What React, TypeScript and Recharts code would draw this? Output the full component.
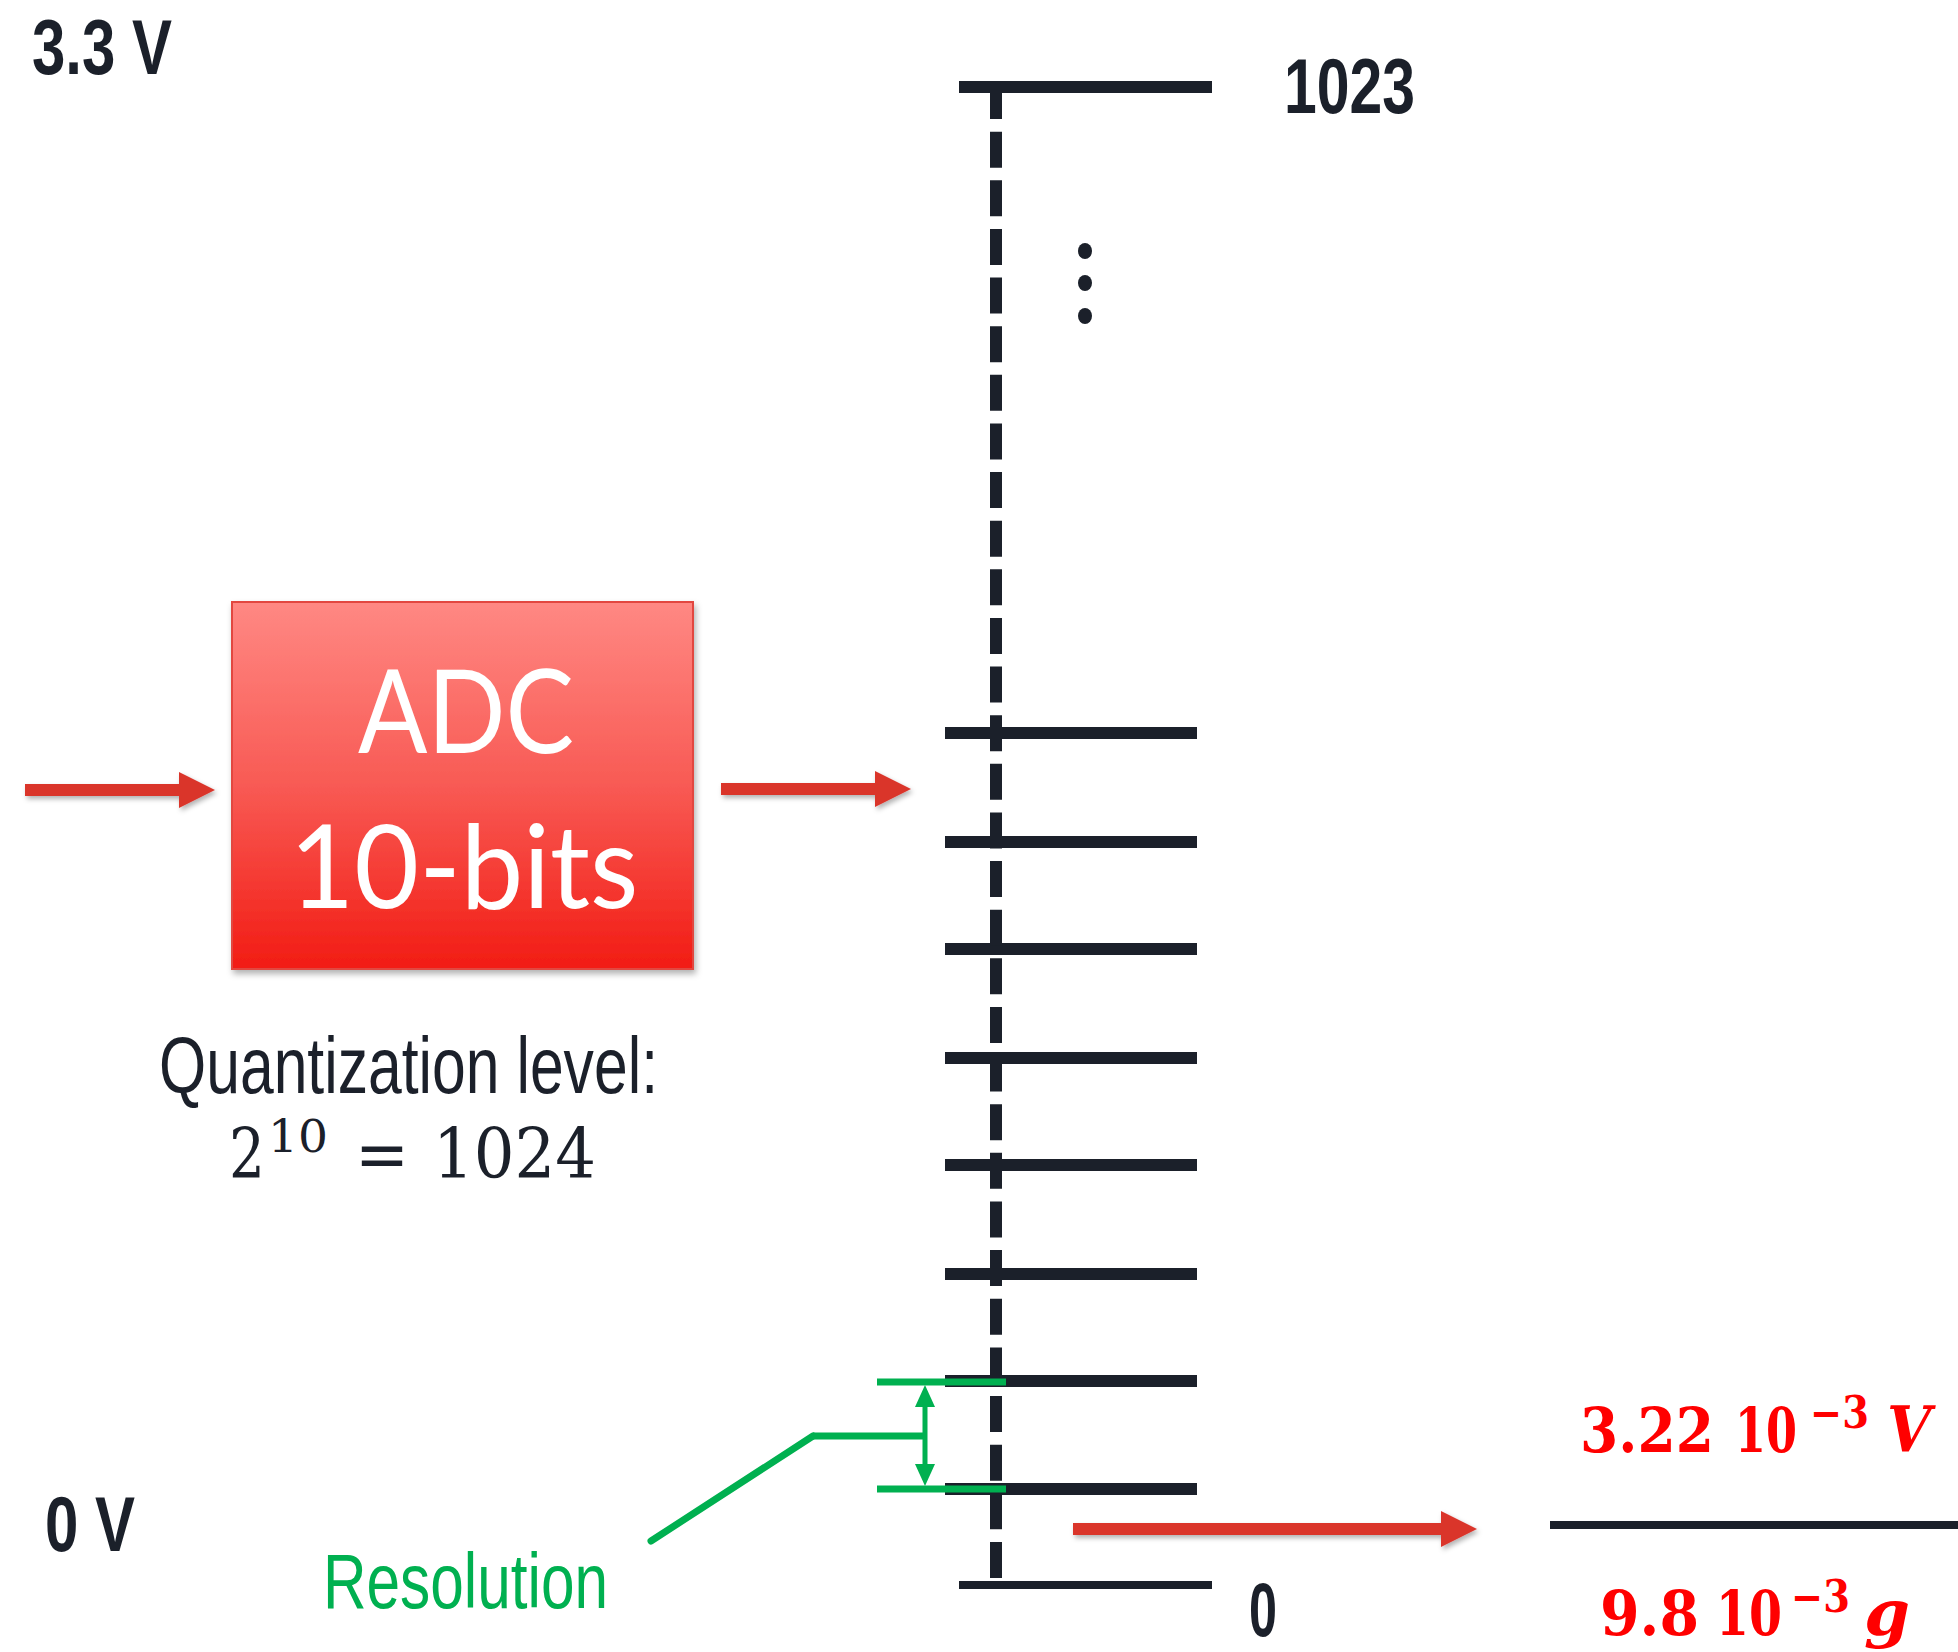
import React from 'react'
import { ComposedChart, XAxis, YAxis, ReferenceLine, ReferenceArea, Scatter } from 'recharts'

const W = 1958
const H = 1652

const INK = '#1b202a'
const ARROW_RED = '#da342c'
const MATH_RED = '#ff0000'
const GREEN = '#00b050'

const NARROW = "'Liberation Sans Narrow', 'Arial Narrow', 'Liberation Sans', Arial, sans-serif"
const SERIF = "'DejaVu Serif', 'Liberation Serif', serif"
const BLOCK_FONT = "Lato, 'Open Sans', 'Noto Sans', sans-serif"

// diagram space: x 0..1958, y 0..1652 counted from the top
const scaleColumn = 996
const codeTop = 87 // code 1023
const codeBottom = 1585 // code 0
const levelRows = [733, 842, 949, 1058, 1165, 1274, 1381, 1489]
const ellipsisRows = [251, 283, 316]

const adcBox = { x1: 232, x2: 693, y1: 602, y2: 969 }

const signalArrows = [
  { from: 25, to: 215, y: 790 },
  { from: 721, to: 911, y: 789 },
  { from: 1073, to: 1477, y: 1529 },
]

const resolutionStep = { x: 925, top: 1382, bottom: 1489 }
const resolutionLeader = [
  { x: 651, y: 1541 },
  { x: 813, y: 1436 },
  { x: 925, y: 1436 },
]

const fractionBar = { from: 1550, to: 1958, y: 1525 }

// plain labels: anchor x, baseline y, text, target width, role
const textLabels = [
  { x: 32, y: 74, t: '3.3 V', len: 140, role: 'rail' },
  { x: 45, y: 1551, t: '0 V', len: 90, role: 'rail' },
  { x: 1284, y: 113, t: '1023', len: 131, role: 'rail' },
  { x: 1249, y: 1636, t: '0', len: 28, role: 'railSmall' },
  { x: 159, y: 1093, t: 'Quantization level:', len: 499, role: 'caption' },
  { x: 323, y: 1608, t: 'Resolution', len: 285, role: 'green' },
  { x: 466, y: 753, t: 'ADC', len: 216, role: 'block' },
  { x: 464, y: 908, t: '10-bits', len: 349, role: 'block' },
]

// formula pieces: left x, baseline y, text, target width, role
const levelFormula = [
  { x: 229, y: 1178, t: '2', len: 36, role: 'math' },
  { x: 268, y: 1152, t: '10', len: 60, role: 'mathSup' },
  { x: 355, y: 1178, t: '=', len: 54, role: 'math' },
  { x: 433, y: 1178, t: '1024', len: 163, role: 'math' },
]
const voltFormula = [
  { x: 1580, y: 1452, t: '3.22', len: 134, role: 'red' },
  { x: 1735, y: 1452, t: '10', len: 62, role: 'red' },
  { x: 1810, y: 1428, t: '\u22123', len: 59, role: 'redSup' },
  { x: 1887, y: 1452, t: 'V', len: 44, role: 'redIt' },
]
const gFormula = [
  { x: 1600, y: 1635, t: '9.8', len: 99, role: 'red' },
  { x: 1716, y: 1635, t: '10', len: 66, role: 'red' },
  { x: 1791, y: 1612, t: '\u22123', len: 59, role: 'redSup' },
  { x: 1864, y: 1635, t: 'g', len: 46, role: 'redIt' },
]
const formulaPieces = [...levelFormula, ...voltFormula, ...gFormula]

const roleStyle: Record<string, any> = {
  rail: { fontFamily: NARROW, fontWeight: 700, fontSize: 78, fill: INK },
  railSmall: { fontFamily: NARROW, fontWeight: 700, fontSize: 76, fill: INK },
  caption: { fontFamily: NARROW, fontWeight: 400, fontSize: 80, fill: INK },
  green: { fontFamily: NARROW, fontWeight: 400, fontSize: 78, fill: GREEN },
  block: { fontFamily: BLOCK_FONT, fontWeight: 400, fontSize: 116, fill: '#ffffff', anchor: 'middle' },
  math: { fontFamily: SERIF, fontWeight: 400, fontSize: 70, fill: INK },
  mathSup: { fontFamily: SERIF, fontWeight: 400, fontSize: 45, fill: INK },
  red: { fontFamily: SERIF, fontWeight: 700, fontSize: 62, fill: MATH_RED },
  redSup: { fontFamily: SERIF, fontWeight: 700, fontSize: 44, fill: MATH_RED },
  redIt: { fontFamily: SERIF, fontWeight: 700, fontSize: 64, fill: MATH_RED, fontStyle: 'italic' },
}

let measureCtx: CanvasRenderingContext2D | null = null
function naturalWidth(t: string, s: any) {
  if (!measureCtx) measureCtx = document.createElement('canvas').getContext('2d')
  if (!measureCtx) return 0
  measureCtx.font = `${s.fontStyle || 'normal'} ${s.fontWeight} ${s.fontSize}px ${s.fontFamily}`
  return measureCtx.measureText(t).width
}

const labelShape = (p: any) => {
  const d = p.payload
  const s = roleStyle[d.role]
  return (
    <text
      x={p.cx}
      y={p.cy}
      textAnchor={s.anchor || 'start'}
      fontFamily={s.fontFamily}
      fontWeight={s.fontWeight}
      fontSize={s.fontSize}
      fill={s.fill}
      textLength={d.len}
      lengthAdjust="spacingAndGlyphs"
    >
      {d.t}
    </text>
  )
}

// squeeze each formula piece horizontally to its measured width
const pieceShape = (p: any) => {
  const d = p.payload
  const s = roleStyle[d.role]
  const w = naturalWidth(d.t, s)
  const k = w > 0 ? d.len / w : 1
  return (
    <text
      transform={`translate(${p.cx},${p.cy}) scale(${k.toFixed(4)},1)`}
      x={0}
      y={0}
      fontFamily={s.fontFamily}
      fontWeight={s.fontWeight}
      fontSize={s.fontSize}
      fontStyle={s.fontStyle || 'normal'}
      fill={s.fill}
    >
      {d.t}
    </text>
  )
}

const dotShape = (p: any) => <ellipse cx={p.cx} cy={p.cy} rx={7} ry={8} fill={INK} />

const arrowShape = (p: any) => {
  const { x1, y1, x2 } = p
  const head = 36
  const half = 18
  const shaft = 6
  const pts = [
    [x1, y1 - shaft],
    [x2 - head, y1 - shaft],
    [x2 - head, y1 - half],
    [x2, y1],
    [x2 - head, y1 + half],
    [x2 - head, y1 + shaft],
    [x1, y1 + shaft],
  ]
    .map((q) => q.join(','))
    .join(' ')
  return (
    <g>
      <defs>
        <filter id="arrowShadow" x="-10%" y="-60%" width="120%" height="220%">
          <feDropShadow dx="2" dy="3" stdDeviation="2.5" floodColor="#000" floodOpacity="0.3" />
        </filter>
      </defs>
      <polygon points={pts} fill={ARROW_RED} filter="url(#arrowShadow)" />
    </g>
  )
}

const doubleArrowShape = (p: any) => {
  const x = p.x1
  const top = Math.min(p.y1, p.y2)
  const bot = Math.max(p.y1, p.y2)
  const tip = 3
  const head = 22
  const half = 10
  return (
    <g fill={GREEN}>
      <rect x={x - 2.5} y={top + tip + head - 1} width={5} height={bot - top - 2 * (tip + head) + 2} />
      <polygon points={`${x},${top + tip} ${x + half},${top + tip + head} ${x - half},${top + tip + head}`} />
      <polygon points={`${x},${bot - tip} ${x + half},${bot - tip - head} ${x - half},${bot - tip - head}`} />
    </g>
  )
}

const boxShape = (p: any) => (
  <g>
    <defs>
      <linearGradient id="adcFill" x1="0" y1="0" x2="0" y2="1">
        <stop offset="0" stopColor="#ff8883" />
        <stop offset="0.5" stopColor="#f85a54" />
        <stop offset="1" stopColor="#f21c14" />
      </linearGradient>
      <filter id="boxShadow" x="-10%" y="-10%" width="125%" height="125%">
        <feDropShadow dx="2" dy="4" stdDeviation="3" floodColor="#000" floodOpacity="0.3" />
      </filter>
    </defs>
    <rect
      x={p.x}
      y={p.y}
      width={p.width}
      height={p.height}
      fill="url(#adcFill)"
      stroke="#e2463f"
      strokeWidth={2}
      filter="url(#boxShadow)"
    />
  </g>
)

export default function App() {
  return (
    <div style={{ position: 'absolute', left: 0, top: 0, width: W, height: H, background: '#fff' }}>
      <ComposedChart width={W} height={H} margin={{ top: 0, right: 0, bottom: 0, left: 0 }}>
        <XAxis type="number" dataKey="x" domain={[0, W]} allowDataOverflow hide />
        <YAxis type="number" dataKey="y" domain={[0, H]} allowDataOverflow reversed hide />

        {/* ADC block */}
        <ReferenceArea x1={adcBox.x1} x2={adcBox.x2} y1={adcBox.y1} y2={adcBox.y2} shape={boxShape} />

        {/* quantization scale */}
        <ReferenceLine
          segment={[{ x: 959, y: codeTop }, { x: 1212, y: codeTop }]}
          stroke={INK}
          strokeWidth={12}
        />
        {levelRows.map((y) => (
          <ReferenceLine key={y} segment={[{ x: 945, y }, { x: 1197, y }]} stroke={INK} strokeWidth={12} />
        ))}
        <ReferenceLine
          segment={[{ x: 959, y: codeBottom }, { x: 1212, y: codeBottom }]}
          stroke={INK}
          strokeWidth={8}
        />
        <ReferenceLine
          segment={[{ x: scaleColumn, y: 83 }, { x: scaleColumn, y: 1578 }]}
          stroke={INK}
          strokeWidth={12}
          strokeDasharray="36 12.63"
        />

        {/* resolution marker */}
        {[resolutionStep.top, resolutionStep.bottom].map((y) => (
          <ReferenceLine key={'g' + y} segment={[{ x: 877, y }, { x: 1006, y }]} stroke={GREEN} strokeWidth={7} />
        ))}
        <ReferenceLine
          segment={[{ x: resolutionStep.x, y: resolutionStep.top }, { x: resolutionStep.x, y: resolutionStep.bottom }]}
          shape={doubleArrowShape}
        />
        <ReferenceLine segment={[resolutionLeader[0], resolutionLeader[1]]} stroke={GREEN} strokeWidth={7} strokeLinecap="round" />
        <ReferenceLine segment={[resolutionLeader[1], resolutionLeader[2]]} stroke={GREEN} strokeWidth={7} />

        {/* signal arrows */}
        {signalArrows.map((a) => (
          <ReferenceLine key={'a' + a.from} segment={[{ x: a.from, y: a.y }, { x: a.to, y: a.y }]} shape={arrowShape} />
        ))}

        {/* fraction bar */}
        <ReferenceLine
          segment={[{ x: fractionBar.from, y: fractionBar.y }, { x: fractionBar.to, y: fractionBar.y }]}
          stroke={INK}
          strokeWidth={8}
        />

        <Scatter data={ellipsisRows.map((y) => ({ x: 1085, y }))} shape={dotShape} isAnimationActive={false} />
        <Scatter data={textLabels} shape={labelShape} isAnimationActive={false} />
        <Scatter data={formulaPieces} shape={pieceShape} isAnimationActive={false} />
      </ComposedChart>
    </div>
  )
}
